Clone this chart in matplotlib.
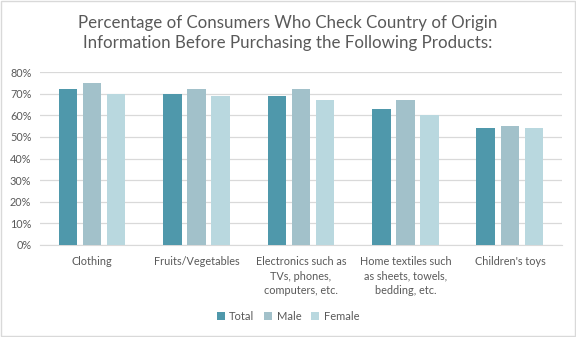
import numpy as np
import matplotlib.pyplot as plt
from matplotlib.patches import Rectangle

categories = ['Clothing', 'Fruits/Vegetables', 'Electronics such as\nTVs, phones,\ncomputers, etc.',
              'Home textiles such\nas sheets, towels,\nbedding, etc.', "Children's toys"]
total = [0.72, 0.70, 0.69, 0.63, 0.54]
male = [0.75, 0.72, 0.72, 0.67, 0.55]
female = [0.70, 0.69, 0.67, 0.60, 0.54]

series = ['Total', 'Male', 'Female']
colors = ['#4f98ab', '#a2c1ca', '#b9d8df']

plt.rcParams['font.family'] = ['Lato', 'DejaVu Sans']

fig = plt.figure(figsize=(5.76, 3.37), dpi=100)
ax = fig.add_axes([0.069, 0.273, 0.907, 0.513])

x = np.arange(len(categories))
w = 0.18
step = 0.23
for i, (vals, name, c) in enumerate(zip([total, male, female], series, colors)):
    ax.bar(x + (i - 1) * step, vals, w, color=c, label=name, zorder=3)

ax.set_xlim(-0.5, len(categories) - 0.5)
ax.set_ylim(0, 0.8)
ax.set_yticks(np.arange(0, 0.81, 0.1))
ax.set_yticklabels(['%d%%' % round(v * 100) for v in np.arange(0, 0.81, 0.1)])
ax.set_xticks(x)
ax.set_xticklabels(categories, linespacing=1.4, va='top')
ax.tick_params(axis='both', length=0, labelsize=7.8, colors='#595959')
ax.tick_params(axis='x', pad=8)
ax.tick_params(axis='y', pad=6)
ax.grid(axis='y', color='#d9d9d9', linewidth=0.9, zorder=0)
for s in ['top', 'right', 'left']:
    ax.spines[s].set_visible(False)
ax.spines['bottom'].set_color('#d9d9d9')

fig.text(0.5, 0.902, 'Percentage of Consumers Who Check Country of Origin\n'
         'Information Before Purchasing the Following Products:',
         ha='center', va='center', fontsize=12.2, color='#595959', linespacing=1.3)

leg = fig.legend(loc='center', bbox_to_anchor=(0.5, 0.062), ncol=3, frameon=False,
                 fontsize=8, handlelength=0.7, handleheight=0.7, handletextpad=0.4,
                 columnspacing=0.9)
for t in leg.get_texts():
    t.set_color('#595959')

fig.patches.append(Rectangle((0.001, 0.002), 0.997, 0.995, transform=fig.transFigure,
                             fill=False, edgecolor='#d9d9d9', linewidth=1))

fig.savefig('out.png', dpi=100)
